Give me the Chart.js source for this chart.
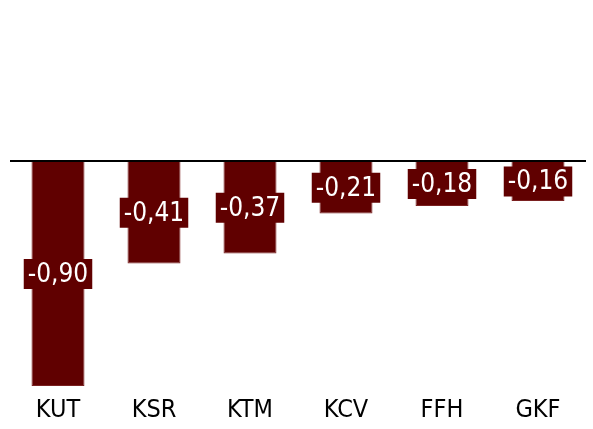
<!DOCTYPE html>
<html>
<head>
<meta charset="utf-8">
<script src="https://cdn.jsdelivr.net/npm/chart.js@4/dist/chart.umd.min.js"></script>
<style>
  html, body { margin: 0; padding: 0; background: #fff; }
  #wrap { width: 593px; height: 429px; }
</style>
</head>
<body>
<div id="wrap"><canvas id="chart"></canvas></div>
<script>
const categories = ['KUT', 'KSR', 'KTM', 'KCV', 'FFH', 'GKF'];
const values = [-0.90, -0.41, -0.37, -0.21, -0.18, -0.16];

const barColor = '#600000';
const fontName = '"DejaVu Sans Condensed"';

// draws the value in a filled box at the middle of each bar
const boxLabels = {
  id: 'boxLabels',
  afterDatasetsDraw(chart) {
    const ctx = chart.ctx;
    const meta = chart.getDatasetMeta(0);
    ctx.save();
    ctx.font = '26px ' + fontName;
    ctx.textAlign = 'center';
    ctx.textBaseline = 'middle';
    meta.data.forEach((bar, i) => {
      const text = values[i].toFixed(2).replace('.', ',');
      const cy = (bar.y + bar.base) / 2;
      const w = ctx.measureText(text).width + 8;
      const h = 30;
      ctx.fillStyle = barColor;
      ctx.fillRect(bar.x - w / 2, cy - h / 2, w, h);
      ctx.fillStyle = '#ffffff';
      ctx.fillText(text, bar.x, cy + 1);
    });
    ctx.restore();
  }
};

new Chart(document.getElementById('chart'), {
  type: 'bar',
  data: {
    labels: categories,
    datasets: [{
      data: values,
      backgroundColor: barColor,
      borderColor: '#7a2020',
      borderWidth: 1,
      barPercentage: 0.69,
      categoryPercentage: 0.8
    }]
  },
  options: {
    responsive: true,
    maintainAspectRatio: false,
    animation: false,
    layout: { padding: { left: 10, right: 7, top: 11, bottom: -5 } },
    plugins: {
      legend: { display: false },
      tooltip: { enabled: false }
    },
    scales: {
      x: {
        grid: { display: false, drawTicks: false },
        border: { display: false },
        ticks: {
          color: '#000',
          font: { family: 'DejaVu Sans Condensed', size: 25 },
          padding: 9
        }
      },
      y: {
        min: -0.9,
        max: 0.6,
        ticks: { display: false, stepSize: 0.1 },
        border: { display: false },
        grid: {
          drawTicks: false,
          lineWidth: 2,
          color: c => (Math.abs(c.tick.value) < 1e-9 ? '#000' : 'rgba(0,0,0,0)')
        }
      }
    }
  },
  plugins: [boxLabels]
});
</script>
</body>
</html>
